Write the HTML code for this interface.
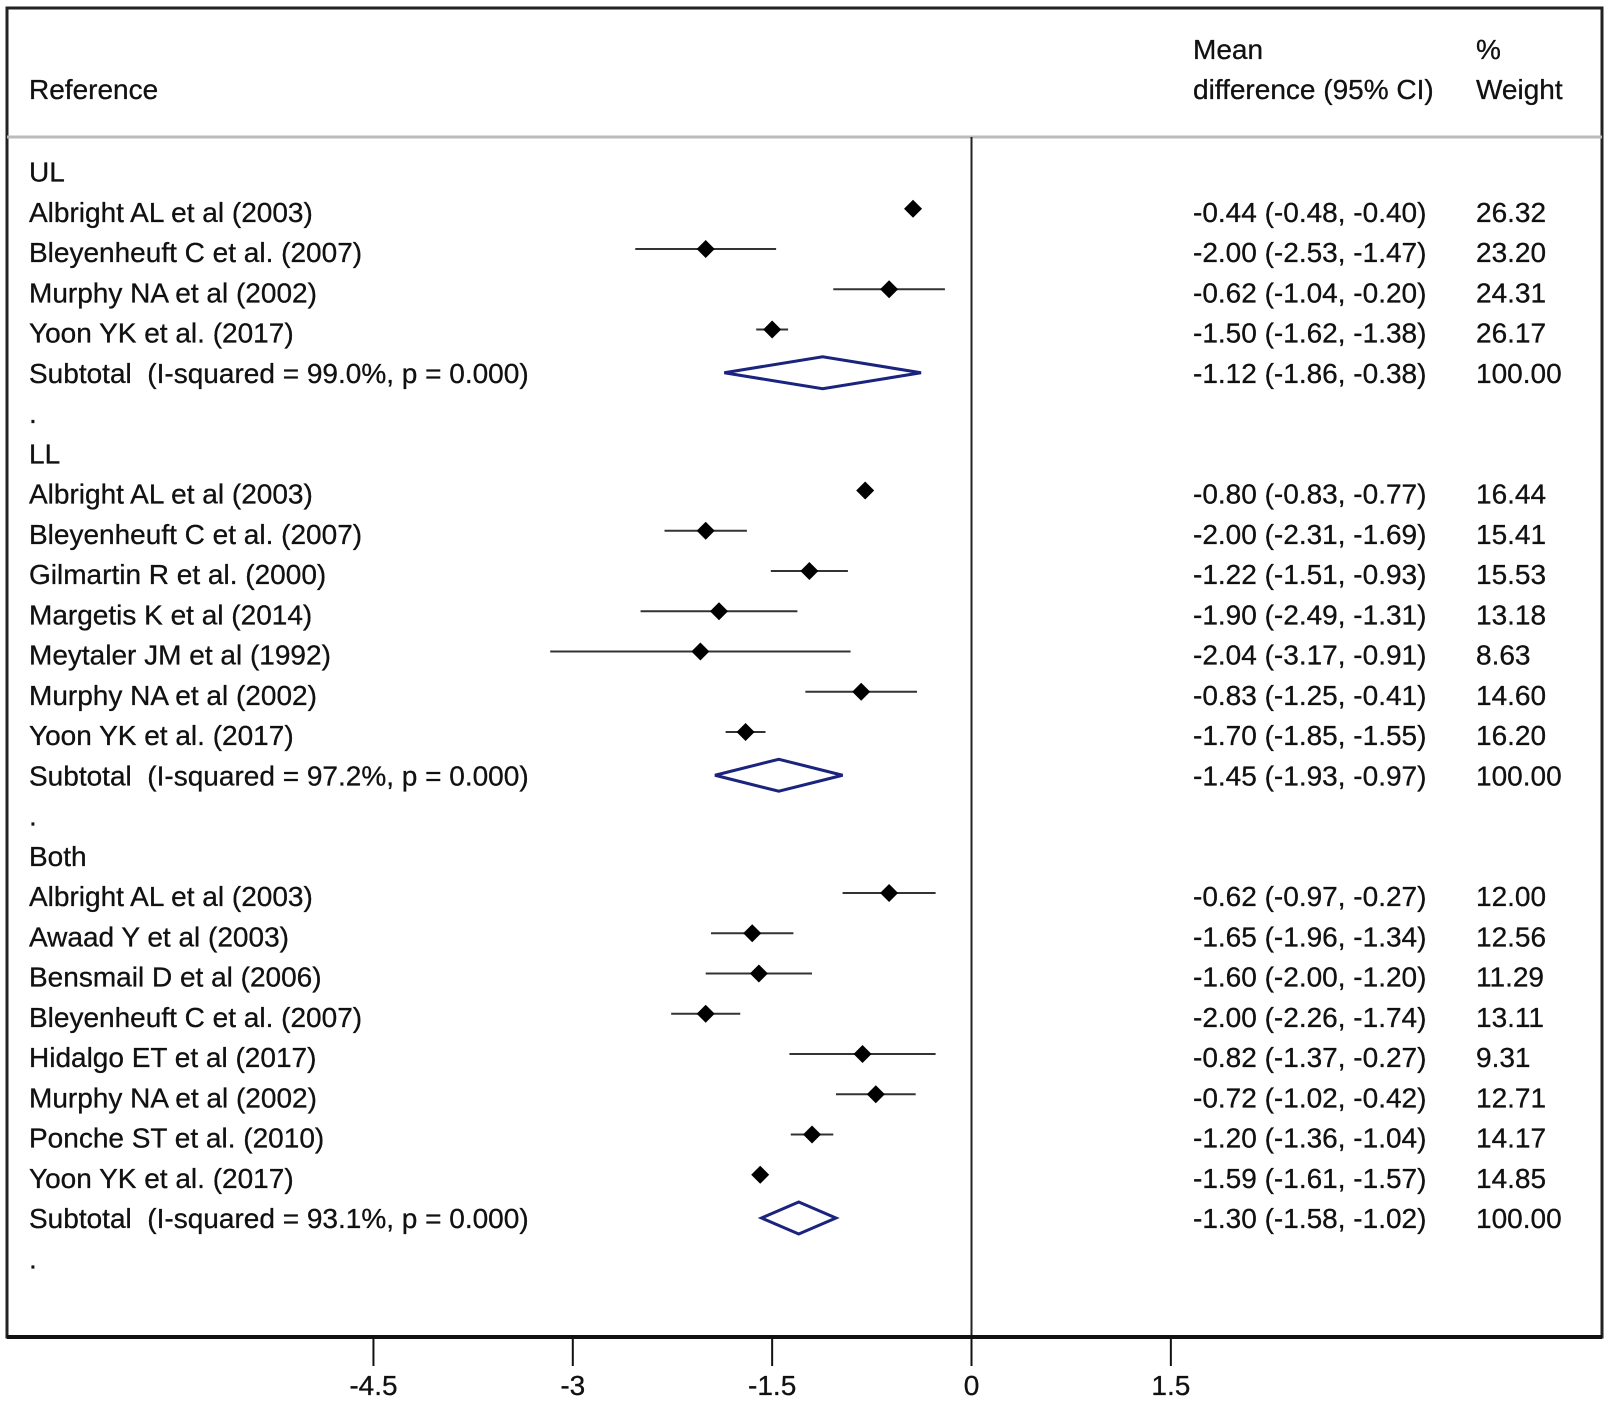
<!DOCTYPE html>
<html><head><meta charset="utf-8"><style>
html,body{margin:0;padding:0;background:#fff}
svg{display:block}
text{font-family:"Liberation Sans",Arial,sans-serif;font-size:28px;fill:#111;white-space:pre;stroke:#111;stroke-width:0.3}
</style></head><body>
<svg id="chart" width="1610" height="1401" viewBox="0 0 1610 1401">
<rect x="7" y="8" width="1595" height="1329" fill="none" stroke="#222" stroke-width="3"/>
<line x1="7" y1="137" x2="1602" y2="137" stroke="#bbb" stroke-width="3"/>
<text x="29" y="99">Reference</text>
<text x="1193" y="59">Mean</text>
<text x="1193" y="99">difference (95% CI)</text>
<text x="1476" y="59">%</text>
<text x="1476" y="99">Weight</text>
<g id="rows"></g>
</svg>
<script>
const labels = ["UL","Albright AL et al (2003)","Bleyenheuft C et al. (2007)","Murphy NA et al (2002)","Yoon YK et al. (2017)","Subtotal  (I-squared = 99.0%, p = 0.000)",".",
"LL","Albright AL et al (2003)","Bleyenheuft C et al. (2007)","Gilmartin R et al. (2000)","Margetis K et al (2014)","Meytaler JM et al (1992)","Murphy NA et al (2002)","Yoon YK et al. (2017)","Subtotal  (I-squared = 97.2%, p = 0.000)",".",
"Both","Albright AL et al (2003)","Awaad Y et al (2003)","Bensmail D et al (2006)","Bleyenheuft C et al. (2007)","Hidalgo ET et al (2017)","Murphy NA et al (2002)","Ponche ST et al. (2010)","Yoon YK et al. (2017)","Subtotal  (I-squared = 93.1%, p = 0.000)","."];
const kinds = ["h","s","s","s","s","t","d","h","s","s","s","s","s","s","s","t","d","h","s","s","s","s","s","s","s","s","t","d"];
const means = [null,-0.44,-2.00,-0.62,-1.50,-1.12,null,null,-0.80,-2.00,-1.22,-1.90,-2.04,-0.83,-1.70,-1.45,null,null,-0.62,-1.65,-1.60,-2.00,-0.82,-0.72,-1.20,-1.59,-1.30,null];
const lows = [null,-0.48,-2.53,-1.04,-1.62,-1.86,null,null,-0.83,-2.31,-1.51,-2.49,-3.17,-1.25,-1.85,-1.93,null,null,-0.97,-1.96,-2.00,-2.26,-1.37,-1.02,-1.36,-1.61,-1.58,null];
const highs = [null,-0.40,-1.47,-0.20,-1.38,-0.38,null,null,-0.77,-1.69,-0.93,-1.31,-0.91,-0.41,-1.55,-0.97,null,null,-0.27,-1.34,-1.20,-1.74,-0.27,-0.42,-1.04,-1.57,-1.02,null];
const weights = [null,"26.32","23.20","24.31","26.17","100.00",null,null,"16.44","15.41","15.53","13.18","8.63","14.60","16.20","100.00",null,null,"12.00","12.56","11.29","13.11","9.31","12.71","14.17","14.85","100.00",null];
const ticks = [-4.5,-3,-1.5,0,1.5];

const NS="http://www.w3.org/2000/svg";
const g=document.getElementById('rows');
const x0=971.5, pxPerUnit=132.9;
const xs=v=>x0+v*pxPerUnit;
const ys=i=>171.5+40.25*i;
function mk(tag,attrs){const e=document.createElementNS(NS,tag);for(const k in attrs)e.setAttribute(k,attrs[k]);g.appendChild(e);return e;}
const fmt=v=>v.toFixed(2);

let zl=mk('line',{x1:xs(0),y1:137,x2:xs(0),y2:1337,stroke:'#222','stroke-width':2});


let ax=mk('line',{x1:7,y1:1337,x2:1602,y2:1337,stroke:'#111','stroke-width':4});


ticks.forEach(t=>{
  let l=mk('line',{x1:xs(t),y1:1337,x2:xs(t),y2:1366,stroke:'#111','stroke-width':2});
  
  
  let tx=mk('text',{x:xs(t),y:1395,'text-anchor':'middle'});
  tx.textContent=String(t);
  
  
});

labels.forEach((lab,i)=>{
  const y=ys(i);
  let t=mk('text',{x:29,y:y+10});
  t.textContent=lab;
  
  
  if(means[i]===null) return;
  let ci=mk('text',{x:1193,y:y+10});
  ci.textContent=fmt(means[i])+' ('+fmt(lows[i])+', '+fmt(highs[i])+')';
  
  
  let w=mk('text',{x:1476,y:y+10});
  w.textContent=weights[i];
  
  
  const cx=xs(means[i]), lx=xs(lows[i]), hx=xs(highs[i]);
  if(kinds[i]==='s'){
    let ln=mk('line',{x1:lx,y1:y-3,x2:hx,y2:y-3,stroke:'#333','stroke-width':2});
    
    
    let d=mk('polygon',{points:`${cx},${y-12} ${cx+9},${y-3} ${cx},${y+6} ${cx-9},${y-3}`,fill:'#000'});
    
    
  } else {
    let d=mk('polygon',{points:`${lx},${y} ${cx},${y-16} ${hx},${y} ${cx},${y+16}`,fill:'none',stroke:'#1a237e','stroke-width':3});
    
    
  }
});
</script>
</body></html>
